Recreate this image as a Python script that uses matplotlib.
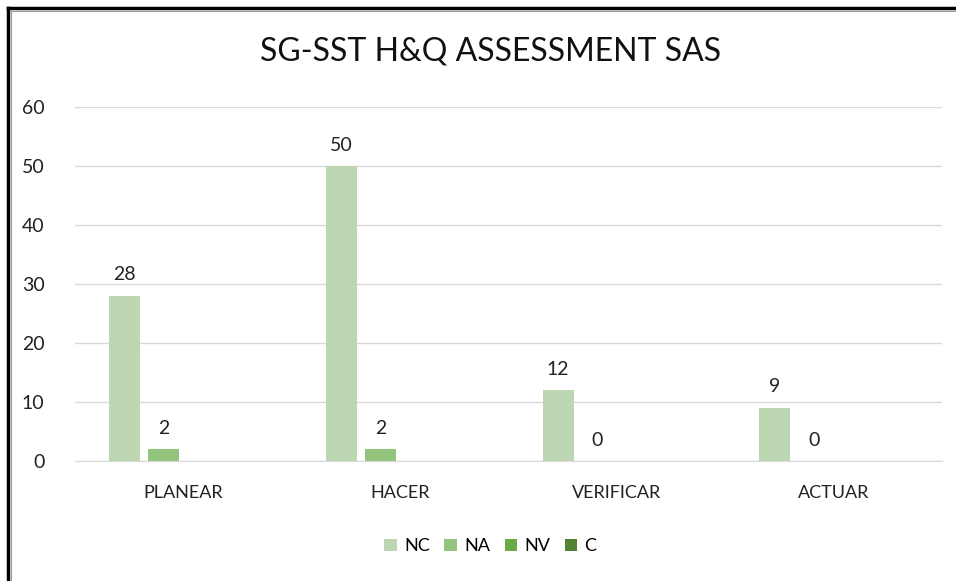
import numpy as np
import matplotlib
matplotlib.use("Agg")
import matplotlib.pyplot as plt
from matplotlib.lines import Line2D

plt.rcParams['font.family'] = ['Lato', 'DejaVu Sans']

# chart data
categories = ['PLANEAR', 'HACER', 'VERIFICAR', 'ACTUAR']
series_names = ['NC', 'NA', 'NV', 'C']
nc_values = [28, 50, 12, 9]
na_values = [2, 2, 0, 0]
nv_values = [None, None, None, None]
c_values = [None, None, None, None]
colors = ['#bdd7b3', '#93c47d', '#6aaa45', '#548235']

all_series = [nc_values, na_values, nv_values, c_values]

fig = plt.figure(figsize=(9.56, 5.81), dpi=100)
ax = fig.add_axes([0.0785, 0.2065, 0.9065, 0.6093])

x = np.arange(len(categories))
bar_w = 0.143
step = 0.18

for i, (name, vals, col) in enumerate(zip(series_names, all_series, colors)):
    v = np.array([np.nan if a is None else a for a in vals], dtype=float)
    pos = x + (i - 1.5) * step
    ax.bar(pos, np.nan_to_num(v), width=bar_w, color=col, label=name, zorder=3)
    for p, val in zip(pos, v):
        if not np.isnan(val):
            ax.annotate(f'{int(val)}', (p, val), xytext=(0, 9), textcoords='offset points',
                        ha='center', va='bottom', fontsize=14, color='#222222')

ax.set_xlim(-0.5, 3.5)
ax.set_ylim(0, 60)
ax.set_yticks(range(0, 61, 10))
ax.set_xticks(x)
ax.set_xticklabels(categories, fontsize=13, color='#222222')
ax.tick_params(axis='y', labelsize=14, colors='#222222', length=0, pad=22)
ax.tick_params(axis='x', length=0, pad=17)
ax.grid(axis='y', color='#d9d9d9', linewidth=1, zorder=0)
for s in ['top', 'right', 'left']:
    ax.spines[s].set_visible(False)
ax.spines['bottom'].set_color('#d9d9d9')

fig.suptitle('SG-SST H&Q ASSESSMENT SAS', x=0.513, y=0.937, fontsize=23, color='#111111')

fig.legend(loc='center', bbox_to_anchor=(0.513, 0.06), ncol=4, frameon=False,
           fontsize=13, handlelength=0.7, handleheight=0.7, columnspacing=0.8,
           handletextpad=0.4)

# frame lines at top and left
fig.add_artist(Line2D([8/956, 1], [1-8/581, 1-8/581], color='black', linewidth=2.5, transform=fig.transFigure))
fig.add_artist(Line2D([8/956, 8/956], [0, 1-8/581], color='black', linewidth=2.5, transform=fig.transFigure))
fig.add_artist(Line2D([10.5/956, 1], [1-10.5/581, 1-10.5/581], color='#999999', linewidth=0.8, transform=fig.transFigure))
fig.add_artist(Line2D([10.5/956, 10.5/956], [0, 1-10.5/581], color='#999999', linewidth=0.8, transform=fig.transFigure))

fig.savefig('out.png', dpi=100)
